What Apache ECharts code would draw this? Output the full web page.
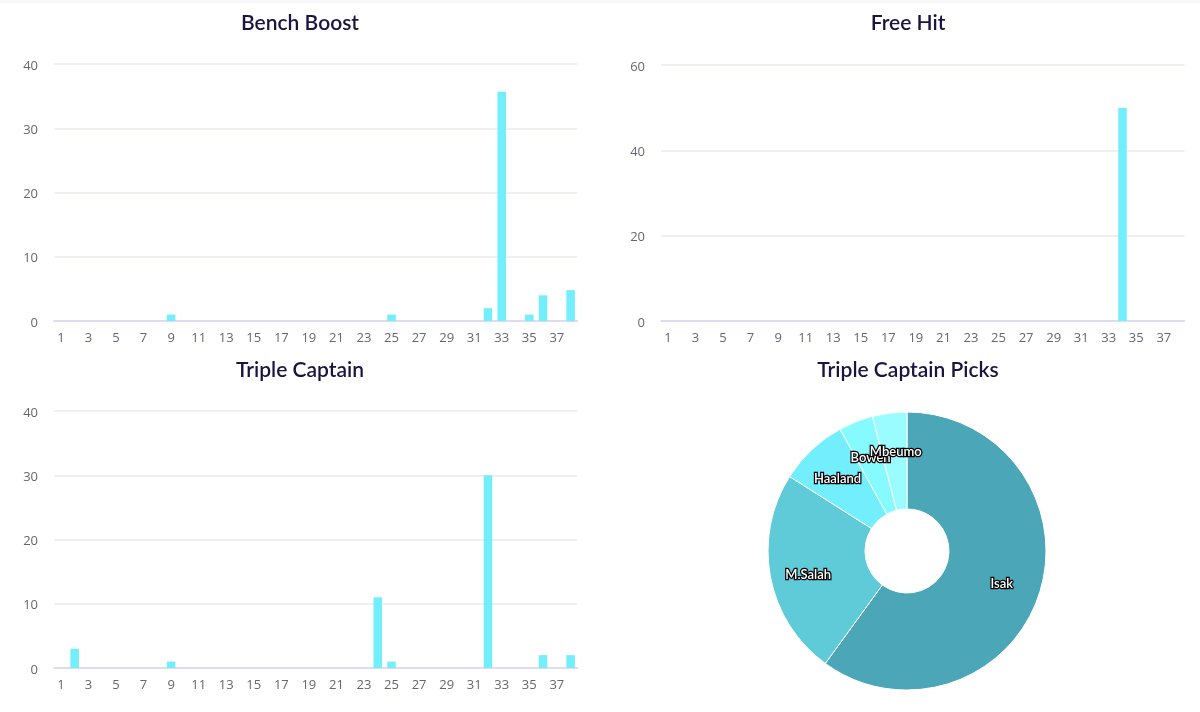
<!DOCTYPE html>
<html><head><meta charset="utf-8">
<style>html,body{margin:0;padding:0;background:#fff}#c{width:1200px;height:712px}</style>
<script src="https://cdn.jsdelivr.net/npm/echarts@6/dist/echarts.min.js"></script>
</head><body><div id="c"></div>
<script>
const gameweeks = Array.from({length:38},(_, i)=>String(i+1));
const benchBoost = [0,0,0,0,0,0,0,0,1,0,0,0,0,0,0,0,0,0,0,0,0,0,0,0,1,0,0,0,0,0,0,2,35.7,0,1,4,0,4.8];
const freeHit = [0,0,0,0,0,0,0,0,0,0,0,0,0,0,0,0,0,0,0,0,0,0,0,0,0,0,0,0,0,0,0,0,0,50,0,0,0,0];
const tripleCaptain = [0,3,0,0,0,0,0,0,1,0,0,0,0,0,0,0,0,0,0,0,0,0,0,11,1,0,0,0,0,0,0,30,0,0,0,2,0,2];
const pickNames = ['Isak','M.Salah','Haaland','Bowen','Mbeumo'];
const pickValues = [60,24,8,4,4];
const pickColors = ['#4ba6b7','#5fcbd9','#72eefc','#86fbff','#9bfcff'];

const chart = echarts.init(document.getElementById('c'),null,{renderer:'canvas'});
const tickFont = {color:'#666672',fontSize:13,fontFamily:'"Open Sans","Noto Sans",sans-serif'};
const titleBase = {textStyle:{color:'#1b1340',fontSize:21,fontWeight:600,fontFamily:'Lato,"Noto Sans",sans-serif'},textAlign:'center',textVerticalAlign:'middle'};
const grids = [
  {left:54,width:523.5,top:64,height:257},
  {left:661,width:523.5,top:65,height:256},
  {left:54,width:523.5,top:411,height:257}
];
const yMax=[40,60,40], yStep=[10,20,10], vals=[benchBoost,freeHit,tripleCaptain];
const cx=907, cy=551;
chart.setOption({
  animation:false,
  title:[
    {...titleBase,text:'Bench Boost',left:295,top:18},
    {...titleBase,text:'Free Hit',left:903,top:18},
    {...titleBase,text:'Triple Captain',left:295,top:365},
    {...titleBase,text:'Triple Captain Picks',left:903,top:365}
  ],
  graphic:[{type:'rect',shape:{x:0,y:0,width:1200,height:3},style:{fill:'#f8f8f9'},silent:true}],
  grid:grids,
  xAxis:grids.map((g,i)=>({type:'category',gridIndex:i,data:gameweeks,
    axisTick:{show:false},axisLine:{lineStyle:{color:'#d6d6ee',width:1.5}},
    axisLabel:{...tickFont,interval:1,margin:10.5,hideOverlap:false},splitLine:{show:false}})),
  yAxis:grids.map((g,i)=>({type:'value',gridIndex:i,min:0,max:yMax[i],interval:yStep[i],
    axisLine:{show:false},axisTick:{show:false},
    axisLabel:{...tickFont,margin:16,formatter:'{t|{value}}',rich:{t:{...tickFont,padding:[4,0,0,0]}}},splitLine:{lineStyle:{color:'#ebebf1',width:1.5}}})),
  series:[
    ...vals.map((v,i)=>({type:'bar',xAxisIndex:i,yAxisIndex:i,data:v,barWidth:8.5,itemStyle:{color:'#72eefc'}})),
    {type:'pie',center:[cx,cy],radius:[42,139],startAngle:90,clockwise:true,
      data:pickNames.map((n,i)=>({name:n,value:pickValues[i],itemStyle:{color:pickColors[i]}})),
      itemStyle:{borderColor:'#fff',borderWidth:1},
      label:{show:true,position:'inside',formatter:'{b}',color:'#fff',fontSize:13,fontWeight:600,
        fontFamily:'Lato,"Noto Sans",sans-serif',textBorderColor:'#000',textBorderWidth:2.5},
      labelLine:{show:false},
      labelLayout:function(p){
        const x=p.rect.x+p.rect.width/2-cx, y=p.rect.y+p.rect.height/2-cy, k=101/90.5-1;
        return {dx:x*k+2.5,dy:y*k+4};
      }}
  ]
});
</script></body></html>
